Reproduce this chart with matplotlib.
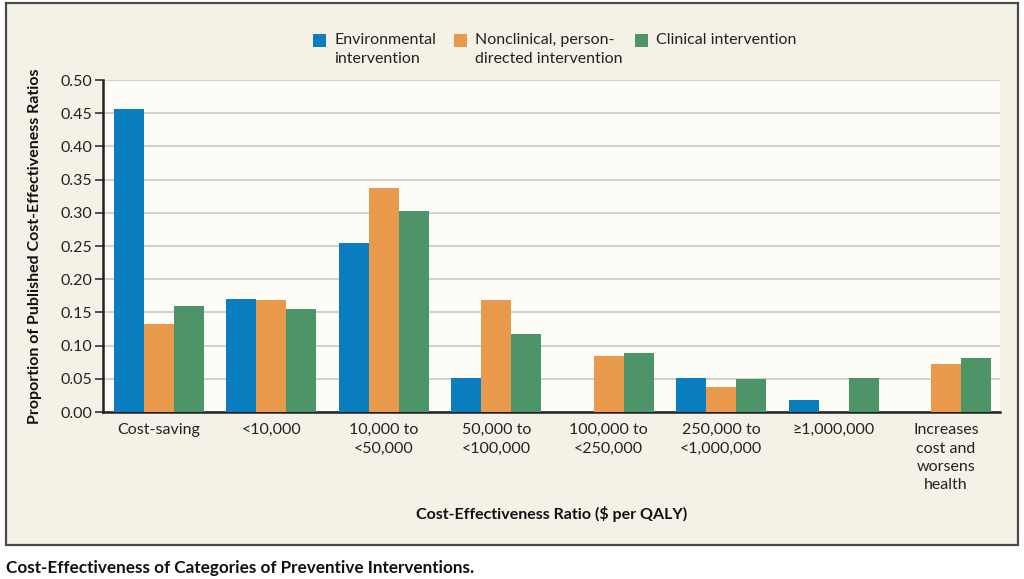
import matplotlib
matplotlib.use("Agg")
import matplotlib.pyplot as plt
from matplotlib.patches import Rectangle
import numpy as np

plt.rcParams['font.family'] = ['Lato', 'DejaVu Sans']

categories = ["Cost-saving", "<10,000", "10,000 to\n<50,000", "50,000 to\n<100,000",
              "100,000 to\n<250,000", "250,000 to\n<1,000,000", "\u22651,000,000",
              "Increases\ncost and\nworsens\nhealth"]
series_names = ["Environmental\nintervention", "Nonclinical, person-\ndirected intervention",
                "Clinical intervention"]
environmental = [0.457, 0.170, 0.255, 0.051, 0.0, 0.051, 0.018, 0.0]
nonclinical = [0.133, 0.168, 0.337, 0.168, 0.085, 0.038, 0.0, 0.073]
clinical = [0.160, 0.155, 0.303, 0.117, 0.089, 0.050, 0.051, 0.081]
yticks = [0.00, 0.05, 0.10, 0.15, 0.20, 0.25, 0.30, 0.35, 0.40, 0.45, 0.50]

colors = ["#0a7ebf", "#e8994b", "#4e9469"]
W, H = 1024, 579
fig = plt.figure(figsize=(W/100, H/100), dpi=100, facecolor="white")

# outer frame
fig.patches.append(Rectangle((6/W, 1 - 545/H), (1018-6)/W, (545-3)/H, transform=fig.transFigure,
                             facecolor="#f4f2e7", edgecolor="#4a4a4a", linewidth=1.6, zorder=-5))

ax = fig.add_axes([103/W, 1 - 412/H, (1000-103)/W, (412-80)/H])
ax.set_zorder(2)
ax.set_facecolor("#fdfcf7")
x = np.arange(len(categories))
bw = 0.267
for i, (vals, c) in enumerate(zip([environmental, nonclinical, clinical], colors)):
    ax.bar(x + (i-1)*bw, vals, width=bw, color=c, linewidth=0, zorder=3)

ax.set_xlim(-0.498, 7.48)
ax.set_ylim(0, 0.5)
ax.set_yticks(yticks)
ax.set_yticklabels([f"{v:.2f}" for v in yticks], fontsize=11.5, color="#222222")
ax.set_xticks(x)
ax.set_xticklabels(categories, fontsize=11.5, color="#222222", linespacing=1.4)
ax.tick_params(axis='x', length=0, pad=8)
ax.tick_params(axis='y', length=6, width=1.2, color="#333333", pad=2)
ax.yaxis.grid(True, color="#d2d2ce", linewidth=1.5, zorder=0)
ax.set_axisbelow(True)
for s in ["top", "right"]:
    ax.spines[s].set_visible(False)
ax.spines["left"].set_linewidth(1.8)
ax.spines["left"].set_color("#222222")
ax.spines["bottom"].set_linewidth(1.8)
ax.spines["bottom"].set_color("#222222")

fig.text(35/W, 1 - 246/H, "Proportion of Published Cost-Effectiveness Ratios", rotation=90,
         ha="center", va="center", fontsize=11.5, fontweight="bold", color="#111111")
fig.text(552/W, 1 - 514/H, "Cost-Effectiveness Ratio ($ per QALY)", ha="center", va="center",
         fontsize=11.5, fontweight="bold", color="#111111")
fig.text(6/W, 1 - 568/H, "Cost-Effectiveness of Categories of Preventive Interventions.",
         ha="left", va="center", fontsize=12.3, fontweight="bold", color="#111111")

# legend
leg_patch_x = [313, 454, 635]
for px, name, c in zip(leg_patch_x, series_names, colors):
    fig.patches.append(Rectangle((px/W, 1 - 47/H), 13/W, 13/H, transform=fig.transFigure,
                                 facecolor=c, edgecolor="none", zorder=3))
    fig.text((px + 21)/W, 1 - 33/H, name, ha="left", va="top", fontsize=11.5,
             color="#222222", linespacing=1.45)

fig.savefig("out.png", dpi=100, facecolor="white")
